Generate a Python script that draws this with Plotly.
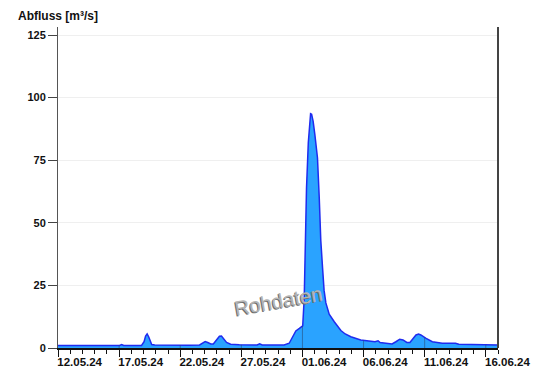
import numpy as np
import pandas as pd
import plotly.graph_objects as go

# Abfluss-Ganglinie (Rohdaten), Zeitstempel und Werte in m³/s
zeit = [
    "2024-05-12 00:00", "2024-05-16 16:00", "2024-05-17 01:00", "2024-05-17 05:00",
    "2024-05-17 09:00", "2024-05-18 20:00", "2024-05-19 01:00", "2024-05-19 04:00",
    "2024-05-19 07:00", "2024-05-19 10:00", "2024-05-19 13:00", "2024-05-19 16:00",
    "2024-05-19 22:00", "2024-05-21 03:00", "2024-05-22 18:00", "2024-05-23 14:00",
    "2024-05-23 20:00", "2024-05-24 01:00", "2024-05-24 06:00", "2024-05-24 12:00",
    "2024-05-24 17:00", "2024-05-24 23:00", "2024-05-25 05:00", "2024-05-25 09:00",
    "2024-05-25 13:00", "2024-05-25 19:00", "2024-05-26 03:00", "2024-05-26 20:00",
    "2024-05-28 07:00", "2024-05-28 12:00", "2024-05-28 17:00", "2024-05-30 12:00",
    "2024-05-30 22:00", "2024-05-31 04:00", "2024-05-31 11:00", "2024-05-31 18:00",
    "2024-06-01 00:30", "2024-06-01 03:30", "2024-06-01 05:30", "2024-06-01 08:00",
    "2024-06-01 11:30", "2024-06-01 14:00", "2024-06-01 16:00", "2024-06-01 18:00",
    "2024-06-01 21:00", "2024-06-02 00:30", "2024-06-02 05:30", "2024-06-02 09:00",
    "2024-06-02 12:00", "2024-06-02 15:30", "2024-06-02 18:30", "2024-06-02 22:00",
    "2024-06-03 04:30", "2024-06-03 14:30", "2024-06-04 03:30", "2024-06-04 12:00",
    "2024-06-04 23:00", "2024-06-05 18:30", "2024-06-06 11:00", "2024-06-06 22:30",
    "2024-06-07 04:30", "2024-06-07 08:30", "2024-06-07 16:00", "2024-06-08 08:00",
    "2024-06-08 15:30", "2024-06-08 23:00", "2024-06-09 05:30", "2024-06-09 13:00",
    "2024-06-09 19:00", "2024-06-10 01:00", "2024-06-10 07:00", "2024-06-10 12:00",
    "2024-06-10 16:30", "2024-06-11 02:00", "2024-06-11 15:00", "2024-06-12 10:30",
    "2024-06-13 03:30", "2024-06-13 12:30", "2024-06-13 19:00", "2024-06-15 00:30",
    "2024-06-17 00:00",
]
abfluss = [
    1.0, 1.0, 1.0, 1.4,
    1.0, 1.0, 2.5, 4.8,
    5.6, 4.5, 2.5, 1.4,
    1.2, 1.1, 1.1, 1.2,
    2.0, 2.6, 2.2, 1.6,
    1.6, 3.0, 4.7, 4.8,
    3.6, 2.2, 1.5, 1.3,
    1.2, 1.7, 1.2, 1.2,
    1.9, 4.0, 6.8, 7.8,
    8.8, 20.0, 45.0, 64.0,
    82.0, 91.0, 93.6, 93.4,
    90.5, 85.0, 76.0, 60.0,
    43.0, 32.0, 23.0, 18.0,
    13.5, 10.5, 7.0, 5.6,
    4.5, 3.2, 2.7, 2.5,
    2.9, 2.2, 2.0, 1.6,
    2.5, 3.5, 3.2, 2.2,
    2.2, 3.8, 5.2, 5.6,
    5.2, 3.9, 2.5, 1.9,
    1.8, 1.9, 1.5, 1.3,
    1.2,
]

y_ticks = [0, 25, 50, 75, 100, 125]
x_start, x_end = "2024-05-12", "2024-06-17"
major_days = pd.date_range("2024-05-12", "2024-06-16", freq="5D")

fig = go.Figure()
fig.add_trace(go.Scatter(
    x=zeit, y=abfluss, mode="lines", fill="tozeroy",
    fillcolor="#2aa3ff", line=dict(color="#1f2bef", width=1.5),
    hoverinfo="x+y", showlegend=False,
))

# Datums-Rasterlinien nur innerhalb der Abflussfläche sichtbar
t_num = pd.to_datetime(zeit).asi8.astype(float)
grid_shapes = []
for d in major_days[1:]:
    top = float(np.interp(float(d.value), t_num, abfluss))
    grid_shapes.append(dict(type="line", xref="x", yref="y", x0=d, x1=d,
                            y0=0, y1=top, layer="above",
                            line=dict(color="rgba(40,70,110,0.55)", width=1)))

fig.update_layout(
    width=534, height=371,
    margin=dict(l=58, r=36, t=27, b=23),
    paper_bgcolor="white", plot_bgcolor="white",
    font=dict(family="Liberation Sans, Arial, sans-serif", color="#111"),
    xaxis=dict(
        type="date", range=[x_start, x_end], automargin=False,
        tick0="2024-05-12", dtick=5 * 86400000, tickformat="%d.%m.%y",
        ticks="outside", ticklen=7, tickcolor="#111", tickwidth=1,
        ticklabelposition="outside right", ticklabelstandoff=2, ticklabelshift=-2,
        tickfont=dict(size=11.5, family="Liberation Sans, Arial, sans-serif",
                      weight="bold"),
        showline=True, linecolor="#111", linewidth=1.5,
        showgrid=False, zeroline=False,
        minor=dict(dtick=86400000, tick0="2024-05-12", ticks="outside",
                   ticklen=4, tickcolor="#111", showgrid=False),
        fixedrange=True,
    ),
    yaxis=dict(
        range=[0, 128.2], tickvals=y_ticks, automargin=False,
        ticks="outside", ticklen=9, tickcolor="#444", tickwidth=1,
        tickfont=dict(size=11, family="Liberation Sans, Arial, sans-serif",
                      weight="bold"),
        showline=True, linecolor="#555", linewidth=1,
        showgrid=True, gridcolor="#efefef", gridwidth=1,
        zeroline=False, fixedrange=True,
    ),
    shapes=grid_shapes + [
        dict(type="line", xref="paper", yref="paper", x0=1, x1=1, y0=0, y1=1,
             line=dict(color="#444", width=2)),
    ],
    annotations=[
        dict(text="<b>Abfluss [m³/s]</b>", xref="paper", yref="paper",
             x=-0.095, y=1.034, xanchor="left", yanchor="middle", showarrow=False,
             font=dict(size=12, color="#111")),
        # Wasserzeichen mit leichtem Prägeeffekt
        dict(text="Rohdaten", xref="paper", yref="paper", x=0.502, y=0.081,
             xshift=-1, yshift=-1, showarrow=False, textangle=-10,
             font=dict(size=20.5, color="#6e6e6e",
                       family="Liberation Sans, Arial, sans-serif")),
        dict(text="Rohdaten", xref="paper", yref="paper", x=0.502, y=0.081,
             showarrow=False, textangle=-10,
             font=dict(size=20.5, color="#b4b4b4",
                       family="Liberation Sans, Arial, sans-serif")),
    ],
)

fig.write_html("out.html")
